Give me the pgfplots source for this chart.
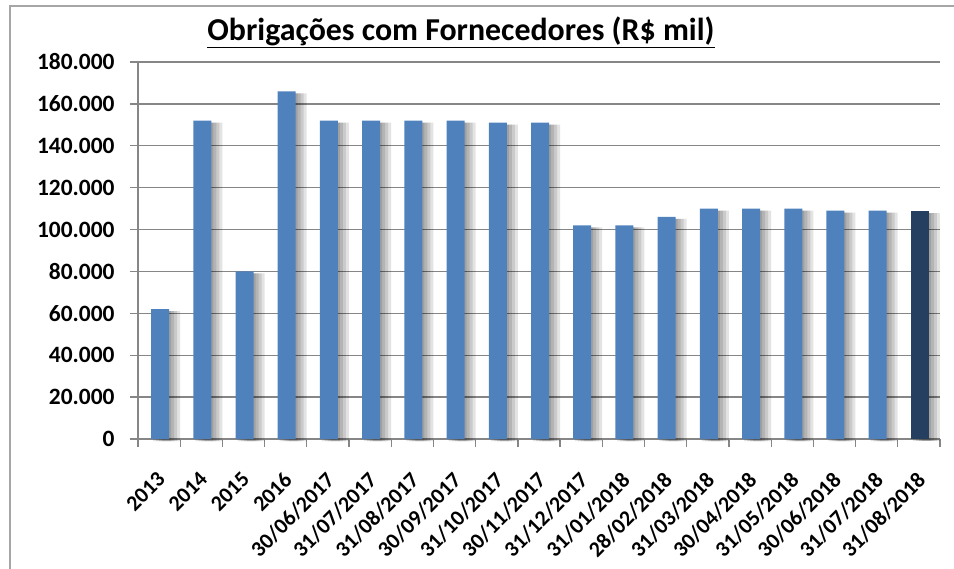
\documentclass[border=0pt]{standalone}
\usepackage{fontspec}
\setmainfont{Carlito}
\usepackage{pgfplots}
\usepackage{pgfplotstable}
\pgfplotsset{compat=1.18}

\definecolor{barblue}{HTML}{4F81BD}
\definecolor{bardark}{HTML}{243F60}
\definecolor{gridgray}{HTML}{868686}

\pgfplotstableread{
x y
0 62000
1 152000
2 80000
3 166000
4 152000
5 152000
6 152000
7 152000
8 151000
9 151000
10 102000
11 102000
12 106000
13 110000
14 110000
15 110000
16 109000
17 109000
}\mainbars
\pgfplotstableread{
x y
18 109000
}\lastbar

\begin{document}
\begin{tikzpicture}
\useasboundingbox (0bp,0bp) rectangle (954bp,-569bp);
% chart frame (only top and left edges are visible)
\draw[gray!70, line width=1.5bp] (954bp,-6bp) -- (10bp,-6bp) -- (10bp,-569bp);
\node[font=\fontsize{32}{36}\selectfont\bfseries, anchor=base] at (461bp,-40bp) {\underline{Obrigações com Fornecedores (R\$ mil)}};
\begin{axis}[
    at={(138bp,-439bp)}, anchor=south west,
    scale only axis,
    width=802bp, height=377bp,
    xmin=-0.5, xmax=18.5,
    ymin=0, ymax=180000,
    ybar, bar width=18bp,
    axis x line*=bottom, axis y line*=left,
    axis line style={gridgray, line width=1.3bp, -},
    ytick={0,20000,...,180000},
    ymajorgrids,
    grid style={gridgray, line width=1.3bp},
    scaled y ticks=false,
    yticklabel style={font=\fontsize{23.5}{26}\selectfont\bfseries, xshift=-12bp,
        /pgf/number format/.cd, fixed, 1000 sep={.}, assume math mode=true},
    xtick={-0.5,0.5,...,18.5},
    x tick label as interval,
    xticklabels={2013,2014,2015,2016,30/06/2017,31/07/2017,31/08/2017,30/09/2017,31/10/2017,30/11/2017,31/12/2017,31/01/2018,28/02/2018,31/03/2018,30/04/2018,31/05/2018,30/06/2018,31/07/2018,31/08/2018},
    xticklabel style={font=\fontsize{22}{24}\selectfont\bfseries, xshift=-3bp, yshift=-19bp, rotate=45, anchor=north east},
    tick align=outside,
    major tick length=8bp,
    tick style={gridgray, line width=1.3bp},
    tick pos=left,
    clip=false,
]
% soft shadow to the right of each bar
\pgfplotsinvokeforeach{3,6,9,12}{
  \addplot[fill=black, draw=none, fill opacity=0.11, bar shift=#1bp, yshift=-2bp] table[x=x,y=y] {\mainbars};
  \addplot[fill=black, draw=none, fill opacity=0.11, bar shift=#1bp, yshift=-2bp] table[x=x,y=y] {\lastbar};
}
% bars
\addplot[fill=barblue, draw=none, bar shift=1bp] table[x=x,y=y] {\mainbars};
\addplot[fill=bardark, draw=none, bar shift=1bp] table[x=x,y=y] {\lastbar};
\end{axis}
\end{tikzpicture}
\end{document}
